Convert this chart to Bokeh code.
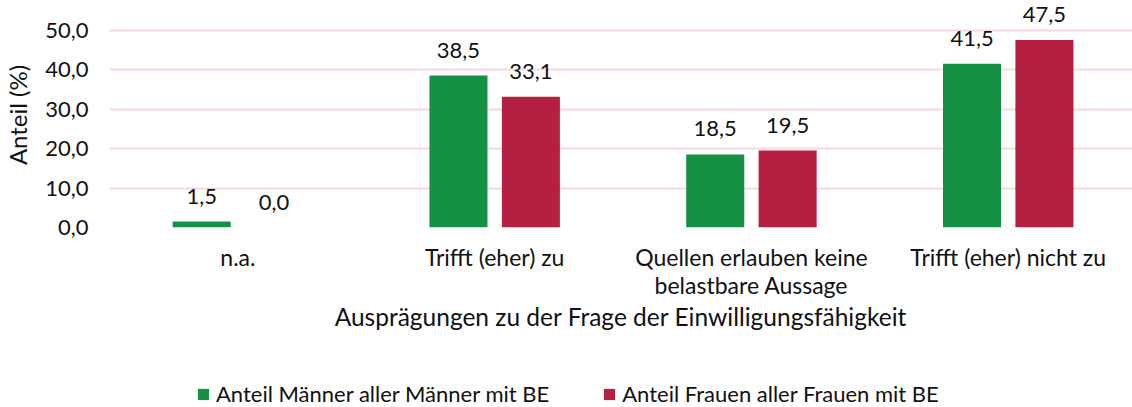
from bokeh.plotting import figure
from bokeh.layouts import column
from bokeh.models import ColumnDataSource, Range1d, FixedTicker, Legend, LegendItem, LabelSet
from bokeh.core.properties import value
from bokeh.embed import file_html
from bokeh.resources import INLINE

categories = ["n.a.", "Trifft (eher) zu", "Quellen erlauben keine\nbelastbare Aussage", "Trifft (eher) nicht zu"]
men = [1.5, 38.5, 18.5, 41.5]
women = [0.0, 33.1, 19.5, 47.5]
series_names = ["Anteil Männer aller Männer mit BE", "Anteil Frauen aller Frauen mit BE"]
y_ticks = [0, 10, 20, 30, 40, 50]

GREEN = "#159144"
RED = "#B51F42"
GRID = "#F8D8DE"
FONT = "Lato"
TXT = "#111111"

def fmt(v):
    return ("%.1f" % v).replace(".", ",")

idx = list(range(len(categories)))
src_m = ColumnDataSource(dict(x=[i - 0.141 for i in idx], top=men, lab=[fmt(v) for v in men]))
src_w = ColumnDataSource(dict(x=[i + 0.141 for i in idx], top=women, lab=[fmt(v) for v in women]))

p = figure(width=1132, height=380, output_backend="svg", toolbar_location=None,
           x_range=Range1d(-0.5, 3.484), y_range=Range1d(0, 57),
           min_border_left=108, min_border_right=0, min_border_top=2, min_border_bottom=153)
p.outline_line_color = None

p.vbar(x="x", top="top", width=0.226, source=src_m, fill_color=GREEN, line_color=None)
p.vbar(x="x", top="top", width=0.226, source=src_w, fill_color=RED, line_color=None)

for s in (src_m, src_w):
    p.add_layout(LabelSet(x="x", y="top", text="lab", source=s, text_align="center",
                          text_baseline="alphabetic", y_offset=18, text_font=value(FONT),
                          text_font_size="22px", text_color=TXT))

p.xgrid.visible = False
p.ygrid.ticker = FixedTicker(ticks=y_ticks)
p.ygrid.grid_line_color = GRID
p.ygrid.grid_line_width = 2

p.yaxis.ticker = FixedTicker(ticks=y_ticks)
p.yaxis.major_label_overrides = {t: fmt(t) for t in y_ticks}
p.xaxis.ticker = FixedTicker(ticks=idx)
p.xaxis.major_label_overrides = {i: c for i, c in zip(idx, categories)}

for ax in (p.xaxis, p.yaxis):
    ax.axis_line_color = None
    ax.major_tick_line_color = None
    ax.minor_tick_line_color = None
    ax.major_tick_out = 0
    ax.major_tick_in = 0
    ax.major_label_text_font = FONT
    ax.major_label_text_font_size = "22px"
    ax.major_label_text_color = TXT
    ax.axis_label_text_font = FONT
    ax.axis_label_text_font_style = "normal"
    ax.axis_label_text_color = TXT

p.yaxis.major_label_standoff = 21
p.yaxis.axis_label = "Anteil (%)"
p.yaxis.axis_label_text_font_size = "24px"
p.yaxis.axis_label_standoff = 10

p.xaxis.major_label_standoff = 15
p.xaxis.major_label_text_font_size = "23px"
p.xaxis.major_label_text_line_height = 1.0
p.xaxis.axis_label = "Ausprägungen zu der Frage der Einwilligungsfähigkeit"
p.xaxis.axis_label_text_font_size = "24.5px"
p.xaxis.axis_label_standoff = 0

# legend strip (its bars lie outside the strip's visible ranges; only the legend shows)
lf = figure(width=1132, height=27, output_backend="svg", toolbar_location=None,
            x_range=Range1d(100, 101), y_range=Range1d(100, 101),
            x_axis_type=None, y_axis_type=None,
            min_border_left=0, min_border_right=0, min_border_top=0, min_border_bottom=0)
lf.outline_line_color = None
lf.xgrid.visible = False
lf.ygrid.visible = False
lm = lf.vbar(x=idx, top=men, width=0.226, fill_color=GREEN, line_color=None)
lw = lf.vbar(x=idx, top=women, width=0.226, fill_color=RED, line_color=None)
legend = Legend(items=[LegendItem(label=series_names[0], renderers=[lm]),
                       LegendItem(label=series_names[1], renderers=[lw])],
                orientation="horizontal", location=(87, 0),
                glyph_width=14, glyph_height=14, label_standoff=6, spacing=53,
                padding=0, margin=0, border_line_color=None, background_fill_alpha=0,
                label_text_font=FONT, label_text_font_size="22px", label_text_color=TXT)
lf.add_layout(legend, "center")

layout = column(p, lf, spacing=0)
open("out.html", "w").write(file_html(layout, INLINE))
